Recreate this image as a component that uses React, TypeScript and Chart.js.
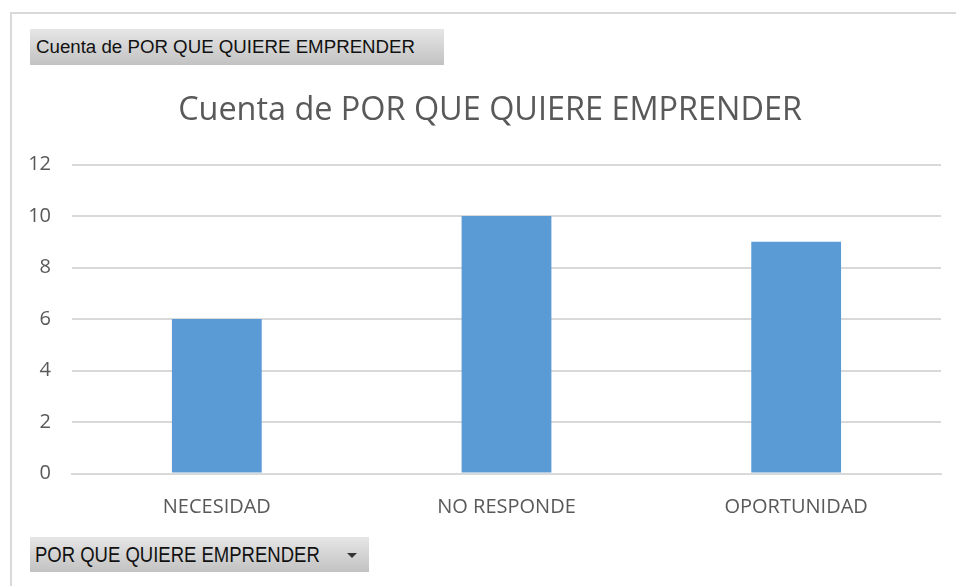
import React, { useEffect, useRef } from "react";
import { Chart, registerables } from "chart.js";

Chart.register(...registerables);

const categories = ["NECESIDAD", "NO RESPONDE", "OPORTUNIDAD"];
const counts = [6, 10, 9];
const titleText = "Cuenta de POR QUE QUIERE EMPRENDER";
const valueButton = "Cuenta de POR QUE QUIERE EMPRENDER";
const fieldButton = "POR QUE QUIERE EMPRENDER";

const titlePlugin = {
  id: "centerTitle",
  afterDraw(chart: any) {
    const ctx = chart.ctx;
    ctx.save();
    ctx.font = "32.4px 'Open Sans'";
    ctx.fillStyle = "#595959";
    ctx.textAlign = "center";
    ctx.textBaseline = "middle";
    ctx.fillText(titleText, 490, 111);
    ctx.restore();
  },
};

export default function App() {
  const ref = useRef<HTMLCanvasElement | null>(null);
  useEffect(() => {
    if (!ref.current) return;
    const chart = new Chart(ref.current, {
      type: "bar",
      data: {
        labels: categories,
        datasets: [
          {
            label: "Total",
            data: counts,
            backgroundColor: "#5b9bd5",
            categoryPercentage: 1,
            barPercentage: 0.31,
          },
        ],
      },
      plugins: [titlePlugin],
      options: {
        animation: false,
        responsive: false,
        maintainAspectRatio: false,
        layout: { padding: { top: 164.5, right: 15, left: 0, bottom: 0 } },
        plugins: { legend: { display: false }, tooltip: { enabled: false }, title: { display: false } },
        scales: {
          x: {
            grid: { display: false, drawTicks: false },
            border: { display: true, color: "#d9d9d9", width: 2 },
            ticks: { color: "#595959", font: { family: "'Open Sans'", size: 20 }, padding: 22 },
            afterFit: (s: any) => { s.height = 112.5; },
          },
          y: {
            min: 0,
            max: 12,
            ticks: { stepSize: 2, color: "#595959", font: { family: "'Open Sans'", size: 20 }, padding: 21 },
            grid: { color: "#d9d9d9", lineWidth: 2, drawTicks: false },
            border: { display: false },
            afterFit: (s: any) => { s.width = 72; },
          },
        },
      },
    });
    return () => chart.destroy();
  }, []);

  const btn: React.CSSProperties = {
    position: "absolute",
    background: "linear-gradient(#e6e6e6, #c2c2c2)",
    color: "#111",
    fontFamily: "'Liberation Sans', Arial, sans-serif",
    display: "flex",
    alignItems: "center",
    boxSizing: "border-box",
    whiteSpace: "nowrap",
  };

  return (
    <div style={{ position: "fixed", left: 0, top: 0, width: 956, height: 586, background: "#fff", overflow: "hidden" }}>
      <div style={{ position: "absolute", left: 10, top: 12, width: 980, height: 620, border: "2px solid #d9d9d9", boxSizing: "border-box" }} />
      <canvas ref={ref} width={956} height={586} style={{ position: "absolute", left: 0, top: 0, width: 956, height: 586 }} />
      <div style={{ ...btn, left: 30, top: 29, width: 414, height: 36, paddingLeft: 6, fontSize: 18.7 }}>{valueButton}</div>
      <div style={{ ...btn, left: 30, top: 537, width: 339, height: 35, paddingLeft: 5, fontSize: 18.5 }}>
        <span style={{ display: "inline-block", transform: "scaleY(1.15)" }}>{fieldButton}</span>
        <span style={{ position: "absolute", left: 317, top: 16, width: 0, height: 0, borderLeft: "5px solid transparent", borderRight: "5px solid transparent", borderTop: "5px solid #333" }} />
      </div>
    </div>
  );
}
